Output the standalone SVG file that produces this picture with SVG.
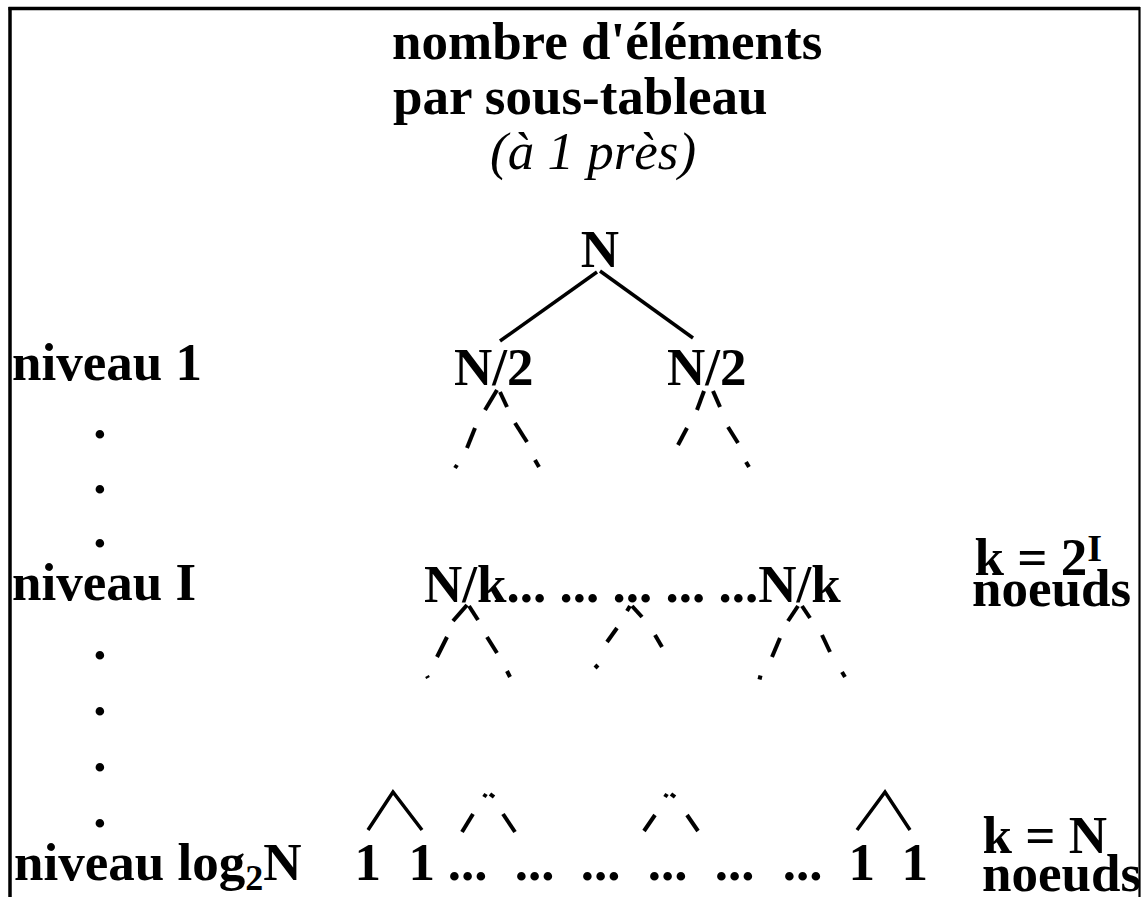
<svg xmlns="http://www.w3.org/2000/svg" width="1146" height="897" viewBox="0 0 1146 897">
<style>
.t{font-family:"Liberation Serif","Times New Roman",serif;font-weight:bold;font-size:53px;fill:#000}
.it{font-style:italic;font-weight:normal}
.solid{stroke:#000;stroke-width:3.5;fill:none}
.dash{stroke:#000;stroke-width:4;fill:none}
.frame{stroke:#000;fill:none}
</style>
<defs>
<clipPath id="inside"><rect x="0" y="0" width="1139" height="897"/></clipPath>
</defs>
<rect x="0" y="0" width="1146" height="897" fill="#fff"/>

<g id="title">
<text class="t" x="392" y="59">nombre d'éléments</text>
<text class="t" x="393" y="114">par sous-tableau</text>
<text class="t it" x="490" y="169">(à 1 près)</text>
</g>

<g id="levels">
<text class="t" x="12" y="380">niveau 1</text>
<text class="t" x="93.3" y="438">.</text>
<text class="t" x="93.3" y="493">.</text>
<text class="t" x="93.3" y="547">.</text>
<text class="t" x="12" y="600">niveau I</text>
<text class="t" x="93.3" y="659">.</text>
<text class="t" x="93.3" y="715">.</text>
<text class="t" x="93.3" y="771">.</text>
<text class="t" x="93.3" y="827">.</text>
<text class="t" x="14" y="880">niveau log<tspan font-size="36" dy="10">2</tspan><tspan dy="-10">N</tspan></text>
</g>

<g id="node-root">
<text class="t" x="600" y="267" text-anchor="middle">N</text>
</g>
<g id="node-n2-left">
<text class="t" x="454" y="385">N/2</text>
</g>
<g id="node-n2-right">
<text class="t" x="667" y="385">N/2</text>
</g>
<g id="node-nk-row">
<text class="t" x="424" y="602">N/k... ... ... ... ...N/k</text>
</g>
<g id="node-leaves">
<text class="t" y="880"><tspan x="354.6">1</tspan><tspan x="408.6">1</tspan><tspan x="447.8">...</tspan><tspan x="514.8">...</tspan><tspan x="580.8">...</tspan><tspan x="647.8">...</tspan><tspan x="714.8">...</tspan><tspan x="782.8">...</tspan><tspan x="848.6">1</tspan><tspan x="901.6">1</tspan></text>
</g>
<g id="labels-right">
<text class="t" x="974.6" y="575">k = 2<tspan font-size="38" dy="-14">I</tspan></text>
<text class="t" x="972" y="606">noeuds</text>
<text class="t" x="982.6" y="853">k = N</text>
<text class="t" x="982" y="891" clip-path="url(#inside)">noeuds</text>
</g>

<g id="connectors">
<line class="solid" x1="597" y1="272" x2="500" y2="341"/>
<line class="solid" x1="600" y1="271" x2="693" y2="338"/>
<line class="dash" x1="497" y1="390" x2="485" y2="410"/>
<line class="dash" x1="475" y1="428" x2="467" y2="448"/>
<line class="dash" x1="457" y1="465" x2="455" y2="468"/>
<line class="dash" x1="500" y1="392" x2="507" y2="407"/>
<line class="dash" x1="515" y1="423" x2="527" y2="442"/>
<line class="dash" x1="535" y1="460" x2="539" y2="467"/>
<line class="dash" x1="704" y1="391" x2="697" y2="410"/>
<line class="dash" x1="687" y1="428" x2="678" y2="445"/>
<line class="dash" x1="713" y1="391" x2="720" y2="407"/>
<line class="dash" x1="728" y1="427" x2="738" y2="443"/>
<line class="dash" x1="746" y1="462" x2="749" y2="467"/>
<line class="dash" x1="467" y1="605" x2="453" y2="621"/>
<line class="dash" x1="469" y1="606" x2="478" y2="620"/>
<line class="dash" x1="447" y1="637" x2="437" y2="657"/>
<line class="dash" x1="427" y1="676" x2="428" y2="678"/>
<line class="dash" x1="487" y1="637" x2="497" y2="653"/>
<line class="dash" x1="507" y1="671" x2="510" y2="677"/>
<line class="dash" x1="630" y1="606" x2="627" y2="611"/>
<line class="dash" x1="632" y1="606" x2="642" y2="617"/>
<line class="dash" x1="617" y1="628" x2="607" y2="642"/>
<line class="dash" x1="595" y1="665" x2="598" y2="668"/>
<line class="dash" x1="655" y1="635" x2="662" y2="647"/>
<line class="dash" x1="798" y1="606" x2="788" y2="621"/>
<line class="dash" x1="802" y1="606" x2="810" y2="618"/>
<line class="dash" x1="780" y1="638" x2="772" y2="657"/>
<line class="dash" x1="758" y1="677" x2="762" y2="678"/>
<line class="dash" x1="822" y1="635" x2="830" y2="652"/>
<line class="dash" x1="842" y1="672" x2="845" y2="677"/>
<polyline class="solid" points="368,830 393,792 422,830"/>
<line class="dash" x1="484" y1="797" x2="486" y2="794"/>
<line class="dash" x1="490" y1="794" x2="494" y2="797"/>
<line class="dash" x1="473" y1="814" x2="462" y2="832"/>
<line class="dash" x1="503" y1="814" x2="515" y2="832"/>
<line class="dash" x1="665" y1="797" x2="667" y2="794"/>
<line class="dash" x1="671" y1="794" x2="675" y2="797"/>
<line class="dash" x1="655" y1="815" x2="644" y2="831"/>
<line class="dash" x1="687" y1="815" x2="698" y2="831"/>
<polyline class="solid" points="857,830 885,792 910,830"/>
</g>

<g id="frame">
<line class="frame" x1="8.5" y1="8.5" x2="1140" y2="8.5" stroke-width="3.5"/>
<line class="frame" x1="10" y1="7" x2="10" y2="897" stroke-width="3.5"/>
<line class="frame" x1="1139.5" y1="7" x2="1139.5" y2="897" stroke-width="2.2"/>
</g>
</svg>
